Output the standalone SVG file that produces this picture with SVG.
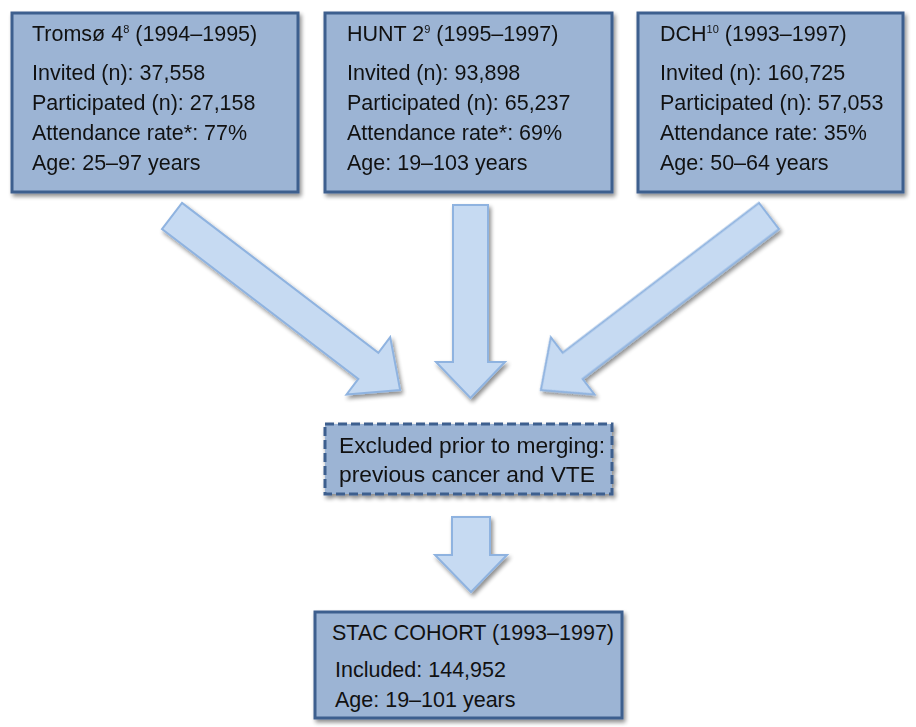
<svg xmlns="http://www.w3.org/2000/svg" width="916" height="727" viewBox="0 0 916 727">
<defs>
<filter id="sh" x="-10%" y="-10%" width="125%" height="130%">
<feGaussianBlur in="SourceAlpha" stdDeviation="2"/>
<feOffset dx="2" dy="3" result="b"/>
<feComponentTransfer><feFuncA type="linear" slope="0.45"/></feComponentTransfer>
<feMerge><feMergeNode/><feMergeNode in="SourceGraphic"/></feMerge>
</filter>
</defs>
<style>
.box{fill:#9cb4d4;stroke:#3d5f8e;stroke-width:3}
.dash{fill:#9cb4d4;stroke:#3d5f8e;stroke-width:3;stroke-dasharray:9 4}
.arr{fill:#c6daf2;stroke:#8fb3e0;stroke-width:2;stroke-linejoin:miter}
text{font-family:"Liberation Sans",Arial,sans-serif;font-size:21.5px;fill:#111}
.sup{font-size:11px}
.ex{font-size:22.8px}
</style>
<rect width="916" height="727" fill="#fff"/>
<g id="connectors" filter="url(#sh)">
<polygon class="arr" transform="translate(172,216) rotate(37.35)" points="0,-16.5 247,-16.5 247,-36 287,0 247,36 247,16.5 0,16.5"/>
<polygon class="arr" transform="translate(769,216) rotate(142.65)" points="0,-16.5 247,-16.5 247,-36 287,0 247,36 247,16.5 0,16.5"/>
<polygon class="arr" points="453,205 488,205 488,362 505,362 470.5,398 436,362 453,362"/>
<polygon class="arr" points="452,517 490,517 490,555 507,555 471,592 435,555 452,555"/>
</g>
<g id="tromso">
<rect class="box" x="12" y="13" width="286" height="179" filter="url(#sh)"/>
<text x="32" y="41">Tromsø 4<tspan class="sup" dy="-8">8</tspan><tspan dy="8"> (1994–1995)</tspan></text>
<text x="32" y="80">Invited (n): 37,558</text>
<text x="32" y="110">Participated (n): 27,158</text>
<text x="32" y="140">Attendance rate*: 77%</text>
<text x="32" y="170">Age: 25–97 years</text>
</g>
<g id="hunt">
<rect class="box" x="325" y="13" width="287" height="179" filter="url(#sh)"/>
<text x="347" y="41">HUNT 2<tspan class="sup" dy="-8">9</tspan><tspan dy="8"> (1995–1997)</tspan></text>
<text x="347" y="80">Invited (n): 93,898</text>
<text x="347" y="110">Participated (n): 65,237</text>
<text x="347" y="140">Attendance rate*: 69%</text>
<text x="347" y="170">Age: 19–103 years</text>
</g>
<g id="dch">
<rect class="box" x="638" y="13" width="265" height="179" filter="url(#sh)"/>
<text x="660" y="41">DCH<tspan class="sup" dy="-8">10</tspan><tspan dy="8"> (1993–1997)</tspan></text>
<text x="660" y="80">Invited (n): 160,725</text>
<text x="660" y="110">Participated (n): 57,053</text>
<text x="660" y="140">Attendance rate: 35%</text>
<text x="660" y="170">Age: 50–64 years</text>
</g>
<g id="excluded">
<rect class="dash" x="325" y="424" width="287" height="70" filter="url(#sh)"/>
<text class="ex" x="339" y="453">Excluded prior to merging:</text>
<text class="ex" x="339" y="482">previous cancer and VTE</text>
</g>
<g id="stac">
<rect class="box" x="315" y="612" width="307" height="106" filter="url(#sh)"/>
<text x="332" y="640">STAC COHORT (1993–1997)</text>
<text x="335" y="677">Included: 144,952</text>
<text x="335" y="707">Age: 19–101 years</text>
</g>
</svg>
